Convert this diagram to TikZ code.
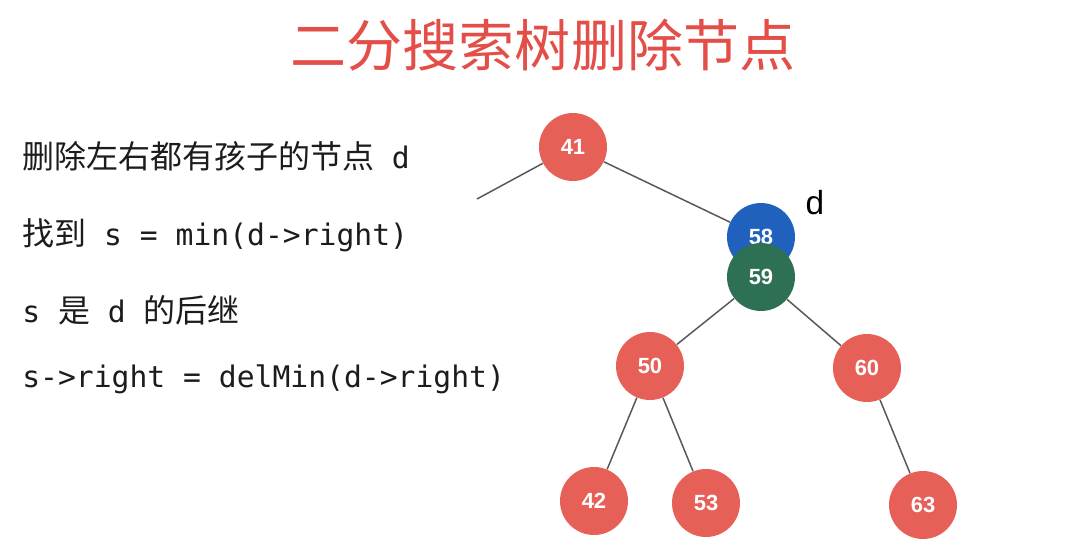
\documentclass[tikz,border=0pt]{standalone}
\usepackage{fontspec}
\setmainfont{Liberation Sans}
\setmonofont{DejaVu Sans Mono}
\newfontfamily\cjkfont{Noto Sans CJK SC}
\usetikzlibrary{calc}
\definecolor{titlered}{RGB}{228,78,72}
\definecolor{nodered}{RGB}{231,96,88}
\definecolor{nodeblue}{RGB}{33,97,190}
\definecolor{nodegreen}{RGB}{46,112,84}
\definecolor{edgegray}{RGB}{88,88,88}
\definecolor{textblack}{RGB}{28,28,28}
\newcommand{\zh}[1]{{\cjkfont\fontsize{18.2pt}{22pt}\selectfont #1}}

\begin{document}
\begin{tikzpicture}[x=0.02cm, y=-0.02cm,
	tnode/.style={circle, inner sep=0pt, minimum size=1.36cm, text=white,
		font=\fontsize{12.5pt}{14pt}\selectfont\bfseries},
	rednode/.style={tnode, fill=nodered},
	bluenode/.style={tnode, fill=nodeblue},
	greennode/.style={tnode, fill=nodegreen},
	link/.style={draw=edgegray, line width=0.85pt},
	codeline/.style={anchor=base west, inner sep=0pt, text=textblack,
		font=\ttfamily\fontsize{16.9pt}{20pt}\selectfont}]
		%%%%% START %%%%%
		
		\useasboundingbox (0, 0) rectangle (1080, 551);
		
		\node[text=titlered, inner sep=0pt, font=\cjkfont\fontsize{31.9pt}{36pt}\selectfont] (title) at (543, 45) {二分搜索树删除节点};
		
		\node[codeline] (line1) at (22, 168) {\zh{删除左右都有孩子的节点} d};
		\node[codeline] (line2) at (22, 245) {\zh{找到} s = min(d->right)};
		\node[codeline] (line3) at (22, 322) {s \zh{是} d \zh{的后继}};
		\node[codeline] (line4) at (22, 387) {s->right = delMin(d->right)};
		
		\node[rednode] (n41) at (573, 147) {41};
		\node[bluenode] (n58) at (761, 237) {58};
		\node[greennode] (n59) at (761, 277) {59};
		\node[rednode] (n50) at (650, 366) {50};
		\node[rednode] (n60) at (867, 368) {60};
		\node[rednode] (n42) at (594, 501) {42};
		\node[rednode] (n53) at (706, 503) {53};
		\node[rednode] (n63) at (923, 505) {63};
		
		\node[text=black, inner sep=0pt, font=\fontsize{19pt}{22pt}\selectfont] (dlabel) at (815, 203) {d};
		
		\coordinate (lfree) at (477, 199);
		\draw[link] (n41) -- (lfree);
		\draw[link] (n41) -- (n58);
		\draw[link] (n59) -- (n50);
		\draw[link] (n59) -- (n60);
		\draw[link] (n50) -- (n42);
		\draw[link] (n50) -- (n53);
		\draw[link] (n60) -- (n63);
		
		%%%%% END %%%%%
	\end{tikzpicture}
\end{document}
